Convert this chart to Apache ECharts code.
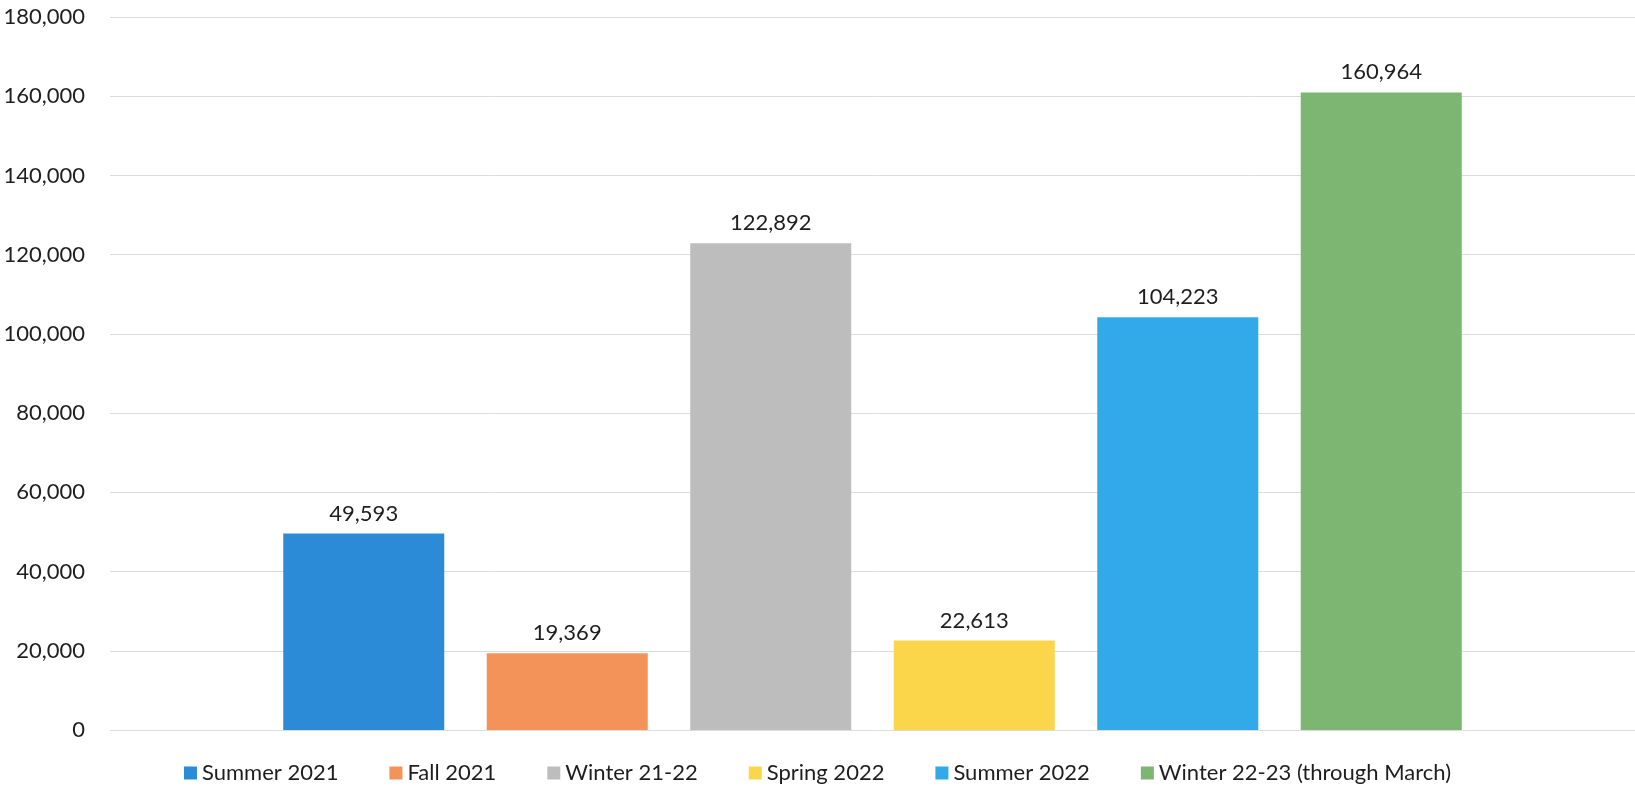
<!DOCTYPE html>
<html>
<head>
<meta charset="utf-8">
<script src="https://cdn.jsdelivr.net/npm/echarts@6/dist/echarts.min.js"></script>
<style>
  html, body { margin: 0; padding: 0; background: #fff; }
  #barChart { width: 1635px; height: 791px; }
</style>
</head>
<body>
<div id="barChart"></div>
<script>
var seasons = ['Summer 2021', 'Fall 2021', 'Winter 21-22', 'Spring 2022', 'Summer 2022', 'Winter 22-23 (through March)'];
var counts = [49593, 19369, 122892, 22613, 104223, 160964];
var barColors = ['#2b8bd6', '#f3935a', '#bdbdbd', '#fbd64a', '#32a9e8', '#7cb672'];
var yMax = 180000;
var yStep = 20000;

var fmt = function(v) {
	return Number(v).toLocaleString('en-US');
};

var series = [];
for (var i = 0; i < seasons.length; i++) {
	series.push({
		name: seasons[i],
		type: 'bar',
		data: [counts[i]],
		barWidth: 161,
		barGap: '26.4%',
		itemStyle: { color: barColors[i] },
		label: {
			show: true,
			position: 'top',
			distance: 9,
			color: '#1e1e1e',
			fontFamily: 'Lato',
			fontSize: 22,
			formatter: function(p) { return fmt(p.value); }
		}
	});
}

var option = {
	animation: false,
	textStyle: { fontFamily: 'Lato' },
	grid: { left: 110, right: 0, top: 17, bottom: 61, containLabel: false },
	legend: {
		data: seasons,
		bottom: 2,
		left: 'center',
		itemWidth: 13,
		itemHeight: 13,
		itemGap: 51,
		icon: 'rect',
		textStyle: { color: '#1e1e1e', fontSize: 22, fontFamily: 'Lato' }
	},
	xAxis: {
		type: 'category',
		data: [''],
		axisLine: { show: false },
		axisTick: { show: false },
		axisLabel: { show: false }
	},
	yAxis: {
		type: 'value',
		min: 0,
		max: yMax,
		interval: yStep,
		axisLine: { show: false },
		axisTick: { show: false },
		axisLabel: {
			color: '#1e1e1e',
			fontSize: 22,
			fontFamily: 'Lato',
			margin: 25,
			formatter: fmt
		},
		splitLine: { lineStyle: { color: '#dcdcdc', width: 1 } }
	},
	series: series
};

var myBarChart = echarts.init(document.getElementById('barChart'));
myBarChart.setOption(option);
</script>
</body>
</html>
